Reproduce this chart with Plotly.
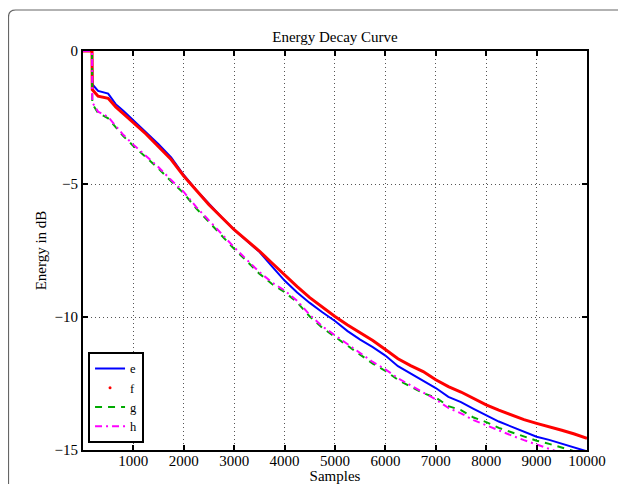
import plotly.graph_objects as go

samples = [1, 180, 185, 300, 500, 650, 800, 1000, 1250, 1500, 1750, 2000, 2250, 2500, 2750,
           3000, 3250, 3500, 3750, 4000, 4250, 4500, 4750, 5000, 5250, 5500, 5750, 6000,
           6250, 6500, 6750, 7000, 7250, 7500, 7750, 8000, 8250, 8500, 8750, 9000, 9250,
           9500, 9750, 10000]

e_vals = [0, 0, -1.25, -1.5, -1.6, -2.0, -2.25, -2.6, -3.07, -3.5, -4.0, -4.66, -5.23, -5.76,
          -6.25, -6.72, -7.13, -7.55, -8.1, -8.63, -9.08, -9.47, -9.82, -10.15, -10.53,
          -10.85, -11.13, -11.45, -11.85, -12.13, -12.38, -12.67, -13.0, -13.2, -13.45,
          -13.7, -13.93, -14.12, -14.3, -14.5, -14.62, -14.76, -14.9, -15.05]

f_vals = [0, 0, -1.45, -1.7, -1.78, -2.1, -2.35, -2.68, -3.12, -3.6, -4.08, -4.7, -5.25,
          -5.78, -6.25, -6.72, -7.12, -7.52, -7.97, -8.43, -8.86, -9.27, -9.64, -9.98,
          -10.3, -10.6, -10.88, -11.22, -11.57, -11.83, -12.05, -12.36, -12.62, -12.82,
          -13.06, -13.3, -13.5, -13.68, -13.86, -14.0, -14.12, -14.26, -14.4, -14.56]

g_vals = [0, 0, -1.98, -2.33, -2.53, -2.86, -3.2, -3.57, -4.0, -4.42, -4.9, -5.35, -5.92,
          -6.44, -6.92, -7.44, -7.9, -8.37, -8.76, -9.06, -9.45, -9.98, -10.41, -10.75,
          -11.08, -11.41, -11.75, -12.03, -12.36, -12.62, -12.86, -13.03, -13.35, -13.5,
          -13.78, -13.95, -14.17, -14.33, -14.5, -14.65, -14.77, -14.9, -15.05, -15.2]

h_vals = [0, 0, -1.93, -2.28, -2.48, -2.81, -3.15, -3.52, -3.95, -4.37, -4.85, -5.3, -5.87,
          -6.39, -6.87, -7.38, -7.84, -8.31, -8.7, -9.0, -9.39, -9.92, -10.35, -10.69,
          -11.02, -11.35, -11.69, -11.97, -12.3, -12.57, -12.85, -13.1, -13.42, -13.62,
          -13.88, -14.08, -14.25, -14.45, -14.63, -14.8, -14.98, -15.12, -15.25, -15.4]

x_ticks = [1000, 2000, 3000, 4000, 5000, 6000, 7000, 8000, 9000, 10000]
x_tick_labels = ["1000", "2000", "3000", "4000", "5000", "6000", "7000", "8000", "9000", "10000"]
y_ticks = [0, -5, -10, -15]
y_tick_labels = ["0", "\u22125", "\u221210", "\u221215"]

SERIF = "Liberation Serif, Times New Roman, serif"
FS = 15

fig = go.Figure()
fig.add_trace(go.Scatter(x=samples, y=e_vals, name="e", mode="lines",
                         line=dict(color="#0000ff", width=2)))
fig.add_trace(go.Scatter(x=samples, y=f_vals, name="f", mode="lines", showlegend=False,
                         legendgroup="f", line=dict(color="#ff0000", width=3)))
fig.add_trace(go.Scatter(x=[None], y=[None], name="f", mode="markers", legendgroup="f",
                         marker=dict(color="#ff0000", size=3)))
fig.add_trace(go.Scatter(x=samples, y=g_vals, name="g", mode="lines",
                         line=dict(color="#00aa00", width=2, dash="7px,6px")))
fig.add_trace(go.Scatter(x=samples, y=h_vals, name="h", mode="lines",
                         line=dict(color="#ff00ff", width=2, dash="7px,4px,2px,4px")))

axis_common = dict(showline=True, linecolor="black", linewidth=2, mirror="ticks",
                   ticks="inside", ticklen=5, tickwidth=2, tickcolor="black",
                   showgrid=True, gridcolor="#555555", gridwidth=1, griddash="1px,3px",
                   zeroline=False, automargin=False,
                   tickfont=dict(family=SERIF, size=FS, color="black"))

fig.update_xaxes(range=[1, 10000], tickvals=x_ticks, ticktext=x_tick_labels,
                 ticklabelstandoff=-4,
                 title=dict(text="Samples", font=dict(family=SERIF, size=FS, color="black"),
                            standoff=4),
                 **axis_common)
fig.update_yaxes(range=[-15, 0], tickvals=y_ticks, ticktext=y_tick_labels,
                 title=dict(text="Energy in dB", font=dict(family=SERIF, size=FS, color="black"),
                            standoff=4),
                 **axis_common)

# figure is placed 8px into the page; plot area 504x399
W, H = 618, 476
L, T, PW, PH = 75, 43, 504.0, 399.0
def px(fx):
    return (fx - L) / PW
def py(fy):
    return (T + PH - fy) / PH
r = 7
x0, y0 = 0.5, 2.0
path = (f"M {px(x0)},{py(H + 20)} L {px(x0)},{py(y0 + r)} "
        f"Q {px(x0)},{py(y0)} {px(x0 + r)},{py(y0)} L {px(W + 20)},{py(y0)}")
fig.add_shape(type="path", path=path, xref="paper", yref="paper",
              line=dict(color="#666666", width=1.2), layer="below")

fig.update_layout(
    width=W, height=H,
    margin=dict(l=L, r=W - L - int(PW), t=T, b=H - T - int(PH), autoexpand=False),
    paper_bgcolor="white", plot_bgcolor="white",
    title=dict(text="Energy Decay Curve", x=(L + PW / 2) / W, xanchor="center",
               y=1 - 29 / H, yanchor="middle",
               font=dict(family=SERIF, size=FS, color="black")),
    font=dict(family=SERIF, size=FS, color="black"),
    legend=dict(x=0.01, y=0.018, xanchor="left", yanchor="bottom",
                bordercolor="black", borderwidth=2, bgcolor="white",
                font=dict(family=SERIF, size=12.5, color="black"),
                tracegroupgap=0, itemwidth=30),
    showlegend=True,
)

fig.write_html("out.html")
